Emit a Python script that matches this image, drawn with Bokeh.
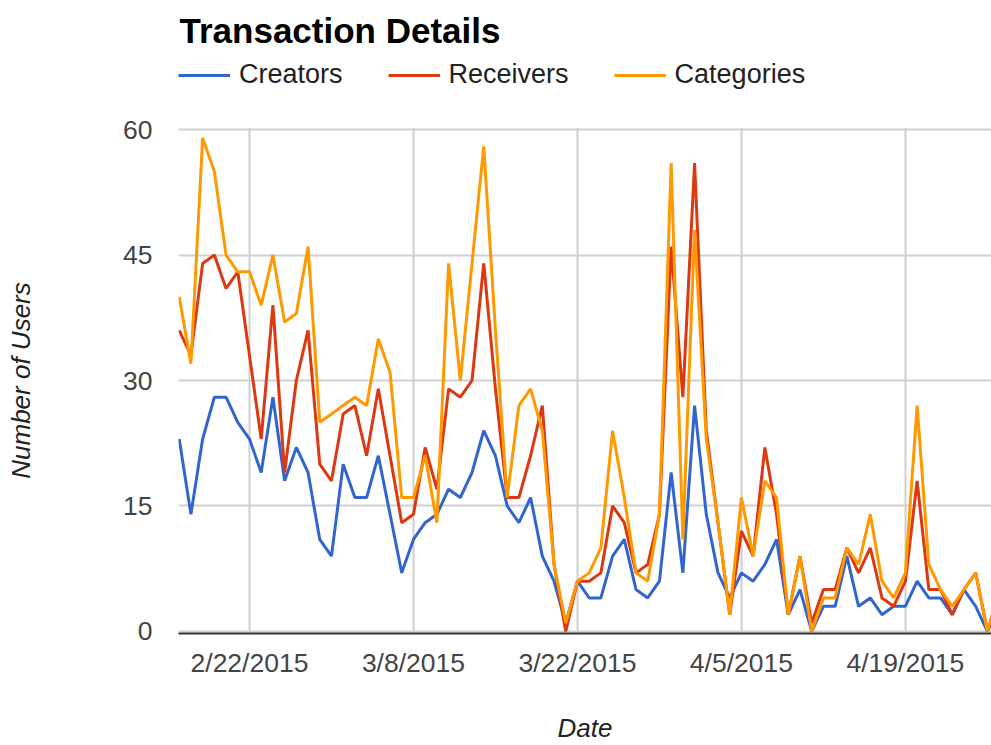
import pandas as pd
from bokeh.plotting import figure
from bokeh.layouts import column
from bokeh.models import Range1d, FixedTicker, Legend, LegendItem, ColumnDataSource
from bokeh.embed import file_html
from bokeh.resources import INLINE

# ---------------- data ----------------
start_date = "2015-02-16"

creators = [23, 14, 23, 28, 28, 25, 23, 19, 28, 18, 22, 19, 11, 9, 20, 16, 16, 21, 14, 7,
            11, 13, 14, 17, 16, 19, 24, 21, 15, 13, 16, 9, 6, 1, 6, 4, 4, 9, 11, 5,
            4, 6, 19, 7, 27, 14, 7, 4, 7, 6, 8, 11, 2, 5, 0, 3, 3, 9, 3, 4,
            2, 3, 3, 6, 4, 4, 2, 5, 3, 0, 3]

receivers = [36, 33, 44, 45, 41, 43, 33, 23, 39, 19, 30, 36, 20, 18, 26, 27, 21, 29, 21, 13,
             14, 22, 17, 29, 28, 30, 44, 29, 16, 16, 21, 27, 8, 0, 6, 6, 7, 15, 13, 7,
             8, 14, 46, 28, 56, 24, 13, 2, 12, 9, 22, 14, 2, 9, 1, 5, 5, 10, 7, 10,
             4, 3, 6, 18, 5, 5, 2, 5, 7, 0, 4]

categories = [40, 32, 59, 55, 45, 43, 43, 39, 45, 37, 38, 46, 25, 26, 27, 28, 27, 35, 31, 16,
              16, 21, 13, 44, 30, 44, 58, 36, 16, 27, 29, 24, 8, 1, 6, 7, 10, 24, 16, 7,
              6, 14, 56, 11, 48, 23, 13, 2, 16, 9, 18, 16, 2, 9, 0, 4, 4, 10, 8, 14,
              6, 4, 7, 27, 8, 5, 3, 5, 7, 0, 5]

series_names = ["Creators", "Receivers", "Categories"]
series_colors = ["#3366cc", "#dc3912", "#ff9900"]
x_tick_labels = ["2/22/2015", "3/8/2015", "3/22/2015", "4/5/2015", "4/19/2015"]
y_ticks = [0, 15, 30, 45, 60]

FONT = "Liberation Sans"
NAN = float("nan")

# ---------------- header: title + legend ----------------
header = figure(width=991, height=100, x_range=Range1d(0, 1), y_range=Range1d(0, 1),
                output_backend="svg", toolbar_location=None,
                x_axis_location=None, y_axis_location=None,
                min_border_left=178, min_border_right=0, min_border_top=56, min_border_bottom=0,
                title="Transaction Details")
header.grid.visible = False
header.outline_line_color = None
header.background_fill_color = "white"
header.border_fill_color = "white"
header.title.text_font = FONT
header.title.text_font_size = "35px"
header.title.text_font_style = "bold"
header.title.text_color = "#000000"
header.title.align = "left"
header.title.offset = 1
header.title.standoff = 16

# legend keys only (no visible marks of their own)
key_renderers = [header.line(x=[NAN], y=[NAN], line_color=c, line_width=3) for c in series_colors]
legend = Legend(items=[LegendItem(label=n, renderers=[r]) for n, r in zip(series_names, key_renderers)],
                orientation="horizontal", location=(0, 10))
legend.glyph_width = 52
legend.glyph_height = 20
legend.label_standoff = 9
legend.spacing = 45
legend.padding = 2
legend.margin = 0
legend.border_line_color = None
legend.background_fill_alpha = 0
legend.label_text_font = FONT
legend.label_text_font_size = "27px"
legend.label_text_color = "#222222"
header.add_layout(legend, "center")

# ---------------- main chart ----------------
dates = pd.date_range(start_date, periods=len(creators), freq="D")
src = ColumnDataSource(dict(date=dates, Creators=creators, Receivers=receivers, Categories=categories))

t0 = pd.Timestamp(start_date)
x_range = Range1d(start=t0 - pd.Timedelta(days=0.06), end=t0 + pd.Timedelta(days=69.35))
y_range = Range1d(start=-0.25, end=60.25)

p = figure(width=991, height=645, x_axis_type="datetime", x_range=x_range, y_range=y_range,
           output_backend="svg", toolbar_location=None,
           min_border_left=178, min_border_right=0, min_border_top=27, min_border_bottom=112)
p.outline_line_color = None
p.background_fill_color = "white"
p.border_fill_color = "white"

tick_ms = [ts.value / 1e6 for ts in pd.to_datetime(x_tick_labels, format="%m/%d/%Y")]
p.xaxis.ticker = FixedTicker(ticks=tick_ms)
p.xaxis.major_label_overrides = {ms: lab for ms, lab in zip(tick_ms, x_tick_labels)}
p.yaxis.ticker = FixedTicker(ticks=y_ticks)
p.xgrid.ticker = FixedTicker(ticks=tick_ms)
p.ygrid.ticker = FixedTicker(ticks=y_ticks)

for g in (p.xgrid, p.ygrid):
    g.grid_line_color = "#cfcfcf"
    g.grid_line_width = 2

for ax in (p.xaxis, p.yaxis):
    ax.major_tick_line_color = None
    ax.minor_tick_line_color = None
    ax.major_tick_out = 0
    ax.major_tick_in = 0
    ax.minor_tick_out = 0
    ax.major_label_text_font = FONT
    ax.major_label_text_font_size = "26.5px"
    ax.major_label_text_color = "#444444"
    ax.axis_label_text_font = FONT
    ax.axis_label_text_font_size = "26px"
    ax.axis_label_text_font_style = "italic"
    ax.axis_label_text_color = "#222222"

p.yaxis.axis_line_color = None
p.yaxis.major_label_standoff = 26
p.yaxis.axis_label = "Number of Users"
p.yaxis.axis_label_standoff = 84

p.xaxis.axis_line_color = "#333333"
p.xaxis.axis_line_width = 2
p.xaxis.major_label_standoff = 14
p.xaxis.axis_label = "Date"
p.xaxis.axis_label_standoff = 32

for name, color in zip(series_names, series_colors):
    p.line(x="date", y=name, source=src, line_color=color, line_width=3)

layout = column(header, p, spacing=0)
open("out.html", "w").write(file_html(layout, INLINE))
